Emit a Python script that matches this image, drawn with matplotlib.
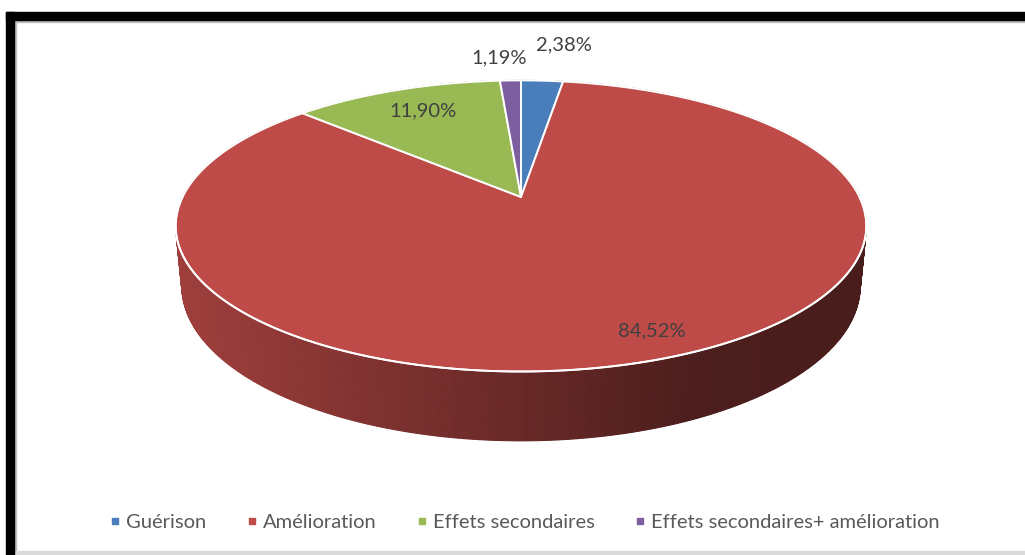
import numpy as np
import matplotlib
matplotlib.use("Agg")
import matplotlib.pyplot as plt
from matplotlib.lines import Line2D
from matplotlib.colors import to_rgb

# ---------------- data ----------------
categories = ["Guérison", "Amélioration", "Effets secondaires",
              "Effets secondaires+ amélioration"]
values = [2.38, 84.52, 11.90, 1.19]
colors = ["#4A7EBB", "#BE4B48", "#98B954", "#7D5FA0"]
value_labels = [f"{v:.2f}%".replace(".", ",") for v in values]

# ---------------- layout / projection constants ----------------
W, H = 1025, 555
CX, CY = 521, 197          # projected pie centre (pixels)
F = 1550.0                 # focal scale
D = 4.58                   # camera distance (disc radii)
ELEV = np.deg2rad(24.4)    # viewing elevation
THICK = 0.194              # disc thickness (radii)
label_pos = [(564, 45), (652, 331), (423, 111), (499, 58)]

se, ce = np.sin(ELEV), np.cos(ELEV)


def project(x, y, z):
    depth = D + y * ce - z * se
    up = y * se + z * ce
    return CX + F * x / depth, CY - F * up / depth, depth


fig = plt.figure(figsize=(W / 100, H / 100), dpi=100)
ax = fig.add_axes([0, 0, 1, 1])
ax.set_xlim(0, W)
ax.set_ylim(H, 0)
ax.axis("off")

# slice angle boundaries (fraction of full turn, clockwise from 12 o'clock)
total = sum(values)
bounds = np.concatenate([[0], np.cumsum(values) / total])

# ---------------- side wall ----------------
segs = []
for i in range(len(values)):
    n = max(4, int((bounds[i + 1] - bounds[i]) * 720))
    t = np.linspace(bounds[i], bounds[i + 1], n + 1) * 2 * np.pi
    for a0, a1 in zip(t[:-1], t[1:]):
        xs = np.sin([a0, a1])
        ys = np.cos([a0, a1])
        X0, Y0, d0 = project(xs, ys, 0.0)
        X1, Y1, d1 = project(xs, ys, -THICK)
        poly_x = [X0[0], X0[1], X1[1], X1[0]]
        poly_y = [Y0[0], Y0[1], Y1[1], Y1[0]]
        segs.append((np.mean(d0), poly_x, poly_y, i))

segs.sort(key=lambda s: -s[0])
for d, px, py, i in segs:
    xm = np.mean(px)
    f = np.interp(xm, [177, 400, 690, 866], [0.84, 0.65, 0.40, 0.38])
    base = np.array(to_rgb(colors[i]))
    c = np.clip(base * f, 0, 1)
    ax.fill(px, py, color=c, lw=0.8, ec=c, zorder=1)

# ---------------- top face ----------------
for i in range(len(values)):
    n = max(8, int((bounds[i + 1] - bounds[i]) * 720))
    t = np.linspace(bounds[i], bounds[i + 1], n + 1) * 2 * np.pi
    X, Y, _ = project(np.sin(t), np.cos(t), 0.0)
    cx0, cy0, _ = project(0.0, 0.0, 0.0)
    px = np.concatenate([[cx0], X, [cx0]])
    py = np.concatenate([[cy0], Y, [cy0]])
    ax.fill(px, py, color=colors[i], ec="white", lw=1.4, zorder=3,
            joinstyle="round")

# white highlight on the front rim
t = np.linspace(0.25, 0.75, 400) * 2 * np.pi
Xr, Yr, _ = project(np.sin(t), np.cos(t), 0.0)
ax.plot(Xr, Yr, color="white", lw=1.3, zorder=4, solid_capstyle="round")

# ---------------- value labels ----------------
for (lx, ly), txt in zip(label_pos, value_labels):
    ax.text(lx, ly, txt, ha="center", va="center", fontsize=14.5,
            color="#404040", family="Lato", zorder=6)

# ---------------- legend ----------------
handles = [Line2D([], [], marker="s", ls="none", ms=4.5, mfc=c, mec=c)
           for c in colors]
leg = ax.legend(handles, categories, loc="center",
                bbox_to_anchor=(525 / W, 1 - 522 / H), ncol=4,
                frameon=False, handlelength=0.5, handletextpad=0.3,
                columnspacing=2.0,
                prop={"family": "Lato", "size": 14.5})
for t_ in leg.get_texts():
    t_.set_color("#595959")

# ---------------- frame ----------------
ax.add_patch(plt.Rectangle((6, 12), W - 6, 8, color="black", zorder=10))
ax.add_patch(plt.Rectangle((6, 12), 8, H - 12, color="black", zorder=10))
ax.add_patch(plt.Rectangle((14, 20), W - 14, 1.5, color="#BFBFBF", zorder=9))
ax.add_patch(plt.Rectangle((14, 20), 1.5, H - 20, color="#BFBFBF", zorder=9))
ax.add_patch(plt.Rectangle((14, 551), W - 14, 4, color="#DADADA", zorder=9))

fig.savefig("out.png", dpi=100)
